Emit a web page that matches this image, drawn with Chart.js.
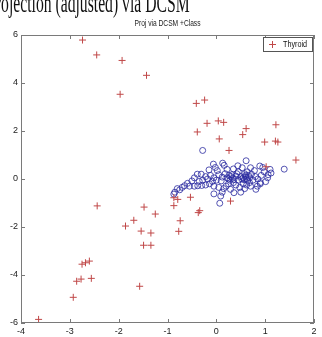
<!DOCTYPE html>
<html>
<head>
<meta charset="utf-8">
<script src="https://cdn.jsdelivr.net/npm/chart.js@4/dist/chart.umd.min.js"></script>
<style>
  body { margin: 0; background: #fff; }
  #wrap { position: relative; width: 322px; height: 337px; overflow: hidden; }
  #cut { position: absolute; right: 132px; top: -13px; white-space: nowrap;
         font-family: "Liberation Serif", serif; font-size: 28px; color: #111;
         transform: scaleX(0.56); transform-origin: right top; }
  canvas { position: absolute; left: 0; top: 0; }
</style>
</head>
<body>
<div id="wrap">
  <canvas id="myChart" width="322" height="337"></canvas>
  <div id="cut">Projection (adjusted) via DCSM</div>
</div>
<script>
var title = "Proj via DCSM +Class";
var xTicks = [-4, -3, -2, -1, 0, 1, 2];
var yTicks = [-6, -4, -2, 0, 2, 4, 6];

// Thyroid points (red +)
var thyroidX = [-2.74, -2.45, -1.93, -1.97, -1.43, -0.41, -0.24, -0.19, 0.04, 0.15, -0.39, 0.06, 0.26, 0.61, 0.54,
  1.22, 0.99, 1.21, 1.26, 1.63, 1.02, -3.64, -2.93, -2.86, -2.77, -2.56, -2.75, -2.68, -2.60, -2.44,
  -1.86, -1.69, -1.48, -1.25, -1.54, -1.34, -1.49, -1.34, -1.57, -0.87, -0.79, -0.87, -0.53, -0.34, -0.37,
  -0.74, -0.77, 0.29];
var thyroidY = [5.79, 5.17, 4.94, 3.53, 4.32, 3.15, 3.29, 2.32, 2.42, 2.36, 1.96, 1.67, 1.19, 2.10, 1.85,
  2.26, 1.54, 1.58, 1.54, 0.79, 0.51, -5.85, -4.93, -4.26, -4.17, -4.14, -3.55, -3.49, -3.42, -1.12,
  -1.96, -1.72, -1.17, -1.46, -2.17, -2.25, -2.76, -2.76, -4.47, -0.78, -0.85, -1.11, -0.76, -1.32, -1.40,
  -1.74, -2.18, -0.92];

// other class (blue o)
var otherX = [-0.28, -0.06, 0.13, 0.16, 0.61, 0.89, 0.95, 1.10, 1.39, 1.12, 1.06, 0.53, 0.70, 0.35, 0.22,
  -0.15, 0.02, 0.45, 0.78, 0.98, -0.39, -0.31, -0.45, -0.22, -0.12, -0.05, 0.05, 0.12, 0.18, 0.22,
  0.25, 0.28, 0.30, 0.33, 0.36, 0.32, 0.40, 0.45, 0.50, 0.52, 0.55, 0.57, 0.60, 0.62, 0.64,
  0.66, 0.68, 0.72, 0.75, 0.80, 0.85, 0.90, 1.01, 1.05, 0.92, 0.58, 0.42, 0.10, 0.00, -0.08,
  -0.18, -0.28, -0.35, -0.50, -0.59, -0.55, -0.45, -0.38, -0.30, -0.22, -0.14, -0.70, -0.65, -0.80, -0.75,
  -0.87, -0.85, -0.05, 0.09, 0.07, 0.36, 0.29, 0.81, 0.90, 0.20, 0.15, 0.05, 0.40, 0.48, 0.55,
  0.62, 0.70, 0.58, 0.25, 0.35, -0.05, 0.12, 0.50, 0.68, 0.26, 0.60, 0.63, -0.02, 0.44, 0.84];
var otherY = [1.19, 0.62, 0.66, 0.57, 0.76, 0.54, 0.48, 0.40, 0.41, 0.25, 0.18, 0.47, 0.47, 0.42, 0.40,
  0.38, 0.35, 0.30, 0.35, 0.30, 0.20, 0.20, 0.05, 0.10, 0.15, 0.05, 0.18, 0.08, 0.22, 0.05,
  0.00, -0.05, 0.10, 0.03, -0.02, 0.18, 0.12, -0.05, 0.10, 0.00, 0.05, -0.03, 0.08, 0.00, -0.06,
  0.15, 0.05, 0.20, -0.05, 0.10, 0.00, -0.15, -0.11, 0.05, 0.15, 0.22, 0.22, -0.08, -0.05, -0.10,
  0.00, -0.05, -0.10, -0.08, -0.18, -0.30, -0.30, -0.28, -0.27, -0.25, -0.20, -0.35, -0.28, -0.40, -0.45,
  -0.63, -0.55, -0.62, -0.71, -1.01, -0.57, -0.43, -0.43, -0.20, -0.30, -0.40, -0.35, -0.25, -0.35, -0.20,
  -0.25, -0.30, -0.40, -0.20, -0.15, -0.30, -0.55, -0.55, -0.15, 0.15, 0.15, 0.30, 0.48, 0.55, -0.30];

function toPoints(xs, ys) {
  return xs.map(function (x, i) { return { x: x, y: ys[i] }; });
}

var red = "#c04848";
var blue = "#2a2aa0";

function narrowText(c, text, x, y, sx) {
  c.save();
  c.translate(x, y);
  c.scale(sx, 1);
  c.fillText(text, 0, 0);
  c.restore();
}

var frame = {
  id: "frame",
  afterDraw: function (chart) {
    var c = chart.ctx, a = chart.chartArea;
    var xs = chart.scales.x, ys = chart.scales.y;
    c.save();
    c.strokeStyle = "#7a7a7a";
    c.lineWidth = 1;
    c.strokeRect(a.left + 0.5, a.top + 0.5, a.right - a.left - 1, a.bottom - a.top - 1);
    c.beginPath();
    xTicks.forEach(function (t) {
      var px = Math.round(xs.getPixelForValue(t)) + 0.5;
      c.moveTo(px, a.bottom); c.lineTo(px, a.bottom - 4);
      c.moveTo(px, a.top); c.lineTo(px, a.top + 4);
    });
    yTicks.forEach(function (t) {
      var py = Math.round(ys.getPixelForValue(t)) + 0.5;
      c.moveTo(a.left, py); c.lineTo(a.left + 4, py);
      c.moveTo(a.right, py); c.lineTo(a.right - 4, py);
    });
    c.stroke();

    // title
    c.fillStyle = "#222";
    c.font = "9px 'Liberation Sans', Arial, sans-serif";
    c.textAlign = "center";
    c.textBaseline = "middle";
    narrowText(c, title, (a.left + a.right) / 2, 24, 0.74);

    // legend
    var lx = 263, ly = 37, lw = 49, lh = 14;
    c.fillStyle = "#fff";
    c.fillRect(lx, ly, lw, lh);
    c.strokeStyle = "#555";
    c.strokeRect(lx + 0.5, ly + 0.5, lw, lh);
    c.strokeStyle = red;
    c.beginPath();
    c.moveTo(269, ly + 7.5); c.lineTo(276, ly + 7.5);
    c.moveTo(272.5, ly + 4); c.lineTo(272.5, ly + 11);
    c.stroke();
    c.fillStyle = "#111";
    c.textAlign = "left";
    narrowText(c, chart.data.datasets[0].label, 283, ly + 7.5, 0.8);
    c.restore();
  }
};

var ctx = document.getElementById("myChart").getContext("2d");
var chart = new Chart(ctx, {
  type: "scatter",
  data: {
    datasets: [
      {
        label: "Thyroid",
        data: toPoints(thyroidX, thyroidY),
        pointStyle: "cross",
        pointRadius: 3.5,
        borderWidth: 1,
        borderColor: red,
        backgroundColor: red
      },
      {
        label: "Other",
        data: toPoints(otherX, otherY),
        pointStyle: "circle",
        pointRadius: 3,
        borderWidth: 0.8,
        borderColor: blue,
        backgroundColor: "transparent"
      }
    ]
  },
  options: {
    responsive: false,
    animation: false,
    layout: { padding: { top: 35, right: 8, left: 0, bottom: 0 } },
    plugins: { legend: { display: false }, title: { display: false }, tooltip: { enabled: false } },
    scales: {
      x: {
        type: "linear", min: -4, max: 2,
        afterBuildTicks: function (s) { s.ticks = xTicks.map(function (v) { return { value: v }; }); },
        afterFit: function (s) { s.height = 14; },
        grid: { display: false, drawTicks: false },
        border: { display: false },
        ticks: { padding: 3, color: "#222", font: { size: 9, family: "'Liberation Sans', Arial" }, maxRotation: 0 }
      },
      y: {
        type: "linear", min: -6, max: 6,
        afterBuildTicks: function (s) { s.ticks = yTicks.map(function (v) { return { value: v }; }); },
        afterFit: function (s) { s.width = 21; },
        grid: { display: false, drawTicks: false },
        border: { display: false },
        ticks: { padding: 3, color: "#222", font: { size: 9, family: "'Liberation Sans', Arial" } }
      }
    }
  },
  plugins: [frame]
});
</script>
</body>
</html>
